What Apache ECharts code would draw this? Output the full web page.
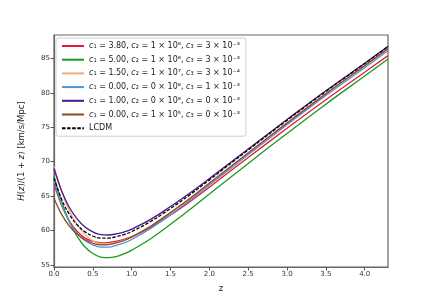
<!DOCTYPE html>
<html><head><meta charset="utf-8">
<script src="https://cdn.jsdelivr.net/npm/echarts@6/dist/echarts.min.js"></script>
<style>html,body{margin:0;padding:0;background:#fff}#c{width:432px;height:302px}</style>
</head><body><div id="c"></div>
<script>
var zValues = [0,0.1,0.2,0.3,0.4,0.5,0.6,0.7,0.8,0.9,1.0,1.25,1.5,1.75,2.0,2.5,3.0,3.5,4.0,4.3];
var redH    = [66.8,63.6,61.35,59.85,58.9,58.45,58.2,58.25,58.45,58.7,59.1,60.5,62.25,64.2,66.3,70.6,74.85,79.0,83.0,85.4];
var greenH  = [67.9,64.1,61.2,59.1,57.6,56.65,56.15,56.05,56.2,56.6,57.15,58.85,60.9,63.05,65.3,69.75,74.1,78.35,82.45,84.9];
var orangeH = [69.3,65.6,62.8,60.8,59.4,58.5,58.05,58.0,58.25,58.6,59.1,60.7,62.65,64.7,66.9,71.3,75.65,79.9,83.95,86.4];
var blueH   = [67.3,63.7,61.2,59.55,58.5,57.9,57.6,57.6,57.85,58.2,58.7,60.35,62.3,64.4,66.6,71.0,75.35,79.6,83.65,86.1];
var purpleH = [69.0,65.7,63.3,61.65,60.5,59.8,59.4,59.35,59.5,59.78,60.2,61.65,63.48,65.45,67.55,71.85,76.12,80.3,84.3,86.75];
var brownH  = [64.7,62.3,60.6,59.45,58.65,58.15,57.9,57.95,58.2,58.55,59.05,60.65,62.6,64.65,66.85,71.25,75.6,79.85,83.95,86.4];
var lcdmH   = [67.6,64.5,62.3,60.8,59.8,59.2,58.9,58.9,59.1,59.4,59.85,61.35,63.2,65.2,67.35,71.7,76.0,80.2,84.25,86.7];
var xTicks = [0,0.5,1.0,1.5,2.0,2.5,3.0,3.5,4.0];
var yTicks = [55,60,65,70,75,80,85];
var seriesNames = ['r','g','o','b','p','br','l'];
var legendLabels = {
  r:  '{i|c}₁ = 3.80, {i|c}₂ = 1 × 10⁸, {i|c}₃ = 3 × 10⁻³',
  g:  '{i|c}₁ = 5.00, {i|c}₂ = 1 × 10⁸, {i|c}₃ = 3 × 10⁻³',
  o:  '{i|c}₁ = 1.50, {i|c}₂ = 1 × 10⁷, {i|c}₃ = 3 × 10⁻⁴',
  b:  '{i|c}₁ = 0.00, {i|c}₂ = 0 × 10⁸, {i|c}₃ = 1 × 10⁻³',
  p:  '{i|c}₁ = 1.00, {i|c}₂ = 0 × 10⁸, {i|c}₃ = 0 × 10⁻³',
  br: '{i|c}₁ = 0.00, {i|c}₂ = 1 × 10⁵, {i|c}₃ = 0 × 10⁻³',
  l:  'LCDM'
};
var allData = [redH, greenH, orangeH, blueH, purpleH, brownH, lcdmH];
var colors = ['#e8193f','#1c9a1c','#f2a97a','#4f94d4','#4b1490','#8b4a1e','#000000'];

function pairs(arr){ return zValues.map(function(z,i){ return [z, arr[i]]; }); }

var series = seriesNames.map(function(n, i){
  return {
    name: n, type: 'line', smooth: 0.4, showSymbol: false, symbol: 'none',
    data: pairs(allData[i]),
    lineStyle: { color: colors[i], width: 1.3, type: n === 'l' ? [3.5, 1.6] : 'solid' },
    itemStyle: { color: colors[i] },
    z: 2 + i
  };
});

var chart = echarts.init(document.getElementById('c'), null, {renderer: 'canvas'});
chart.setOption({
  animation: false,
  backgroundColor: '#fff',
  grid: { left: 54, right: 44, top: 35, bottom: 35, show: true, borderColor: '#666', borderWidth: 1.2, containLabel: false },
  legend: {
    left: 56, top: 38, orient: 'vertical',
    backgroundColor: '#fff', borderColor: '#d0d0d0', borderWidth: 1, borderRadius: 2,
    padding: [4, 6, 4, 5], itemGap: 5.7, itemWidth: 22, itemHeight: 8,
    itemStyle: { opacity: 0 },
    data: seriesNames,
    formatter: function(n){ return legendLabels[n]; },
    textStyle: { fontFamily: 'DejaVu Sans', fontSize: 8, color: '#222',
      rich: { i: { fontStyle: 'italic', fontFamily: 'DejaVu Sans', fontSize: 8, color: '#222' } } }
  },
  xAxis: {
    type: 'value', min: 0, max: 4.3,
    name: 'z', nameLocation: 'middle', nameGap: 17,
    nameTextStyle: { fontFamily: 'DejaVu Sans', fontSize: 8.5, color: '#222' },
    axisLine: { show: true, onZero: false, lineStyle: { color: '#666', width: 1.2 } },
    axisTick: { show: true, inside: false, length: 3.5, customValues: xTicks, lineStyle: { color: '#555' } },
    axisLabel: { customValues: xTicks, fontFamily: 'DejaVu Sans', fontSize: 7, color: '#333', margin: 4,
      formatter: function(v){ return v.toFixed(1); } },
    splitLine: { show: false }
  },
  yAxis: {
    type: 'value', min: 54.7, max: 88.4,
    name: '{i|H}({i|z})/(1 + {i|z}) [km/s/Mpc]', nameLocation: 'middle', nameRotate: 90, nameGap: 28,
    nameTextStyle: { fontFamily: 'DejaVu Sans', fontSize: 8.5, color: '#222',
      rich: { i: { fontStyle: 'italic', fontFamily: 'DejaVu Sans', fontSize: 8.5, color: '#222' } } },
    axisLine: { show: true, onZero: false, lineStyle: { color: '#666', width: 1.2 } },
    axisTick: { show: true, inside: false, length: 3.5, customValues: yTicks, lineStyle: { color: '#555' } },
    axisLabel: { customValues: yTicks, fontFamily: 'DejaVu Sans', fontSize: 7, color: '#333', margin: 4 },
    splitLine: { show: false }
  },
  series: series
});
</script></body></html>
